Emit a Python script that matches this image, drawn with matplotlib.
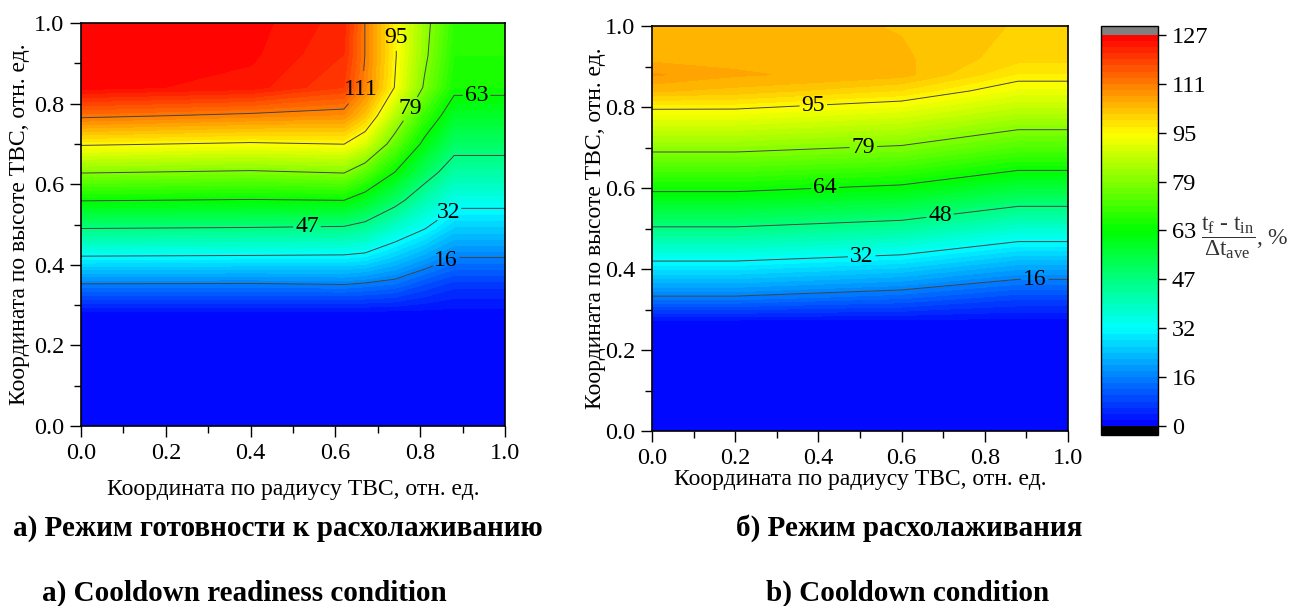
import numpy as np
import matplotlib
matplotlib.use("Agg")
import matplotlib.pyplot as plt
from matplotlib.colors import LinearSegmentedColormap
from matplotlib.ticker import MultipleLocator

plt.rcParams['font.family'] = ['Liberation Serif', 'DejaVu Serif']
plt.rcParams['mathtext.fontset'] = 'custom'
plt.rcParams['mathtext.rm'] = 'Liberation Serif'
plt.rcParams['mathtext.it'] = 'Liberation Serif:italic'

# panel a: cooldown readiness (rows = height, cols = radius)
x_a = [0.0, 0.4, 0.62, 0.67, 0.74, 0.81, 0.88, 1.0]
y_a = [0.0, 0.28, 0.35, 0.42, 0.49, 0.56, 0.63, 0.70, 0.77, 0.84, 0.92, 1.0]
z_a = [
    [1, 1, 1, 1, 1, 1, 1, 1],
    [1, 1, 1, 1, 1, 1, 1, 1],
    [15.2, 15.0, 15.6, 14.8, 13.4, 9.6, 6.7, 6.7],
    [31.4, 31.0, 30.7, 29.8, 25.5, 20.8, 16.1, 16.1],
    [47.6, 47.0, 46.3, 44.0, 37.5, 32.0, 25.3, 25.3],
    [63.8, 63.0, 63.5, 59.0, 50.7, 41.5, 34.3, 34.3],
    [79.9, 78.5, 79.9, 74.2, 63.5, 51.9, 42.9, 42.9],
    [96.1, 94.5, 95.4, 90.0, 75.6, 61.5, 50.9, 50.9],
    [112.3, 110.0, 108.7, 102.0, 85.7, 70.0, 58.3, 58.3],
    [126, 124, 119, 110, 95, 78.4, 65.5, 65.5],
    [126, 125.5, 121, 111, 96, 81, 67.5, 67.5],
    [126, 126, 122, 111, 96, 82, 69, 69],
]

# panel b: cooldown
x_b = [0.0, 0.2, 0.6, 0.88, 1.0]
y_b = [0.0, 0.27, 0.33, 0.42, 0.51, 0.59, 0.69, 0.79, 0.84, 0.88, 0.92, 1.0]
z_b = [
    [1, 1, 1, 1, 1],
    [1, 1, 1, 1, 1],
    [15.3, 15.3, 12.5, 8.6, 8.6],
    [31.8, 31.8, 28.9, 23.3, 23.3],
    [48.7, 48.7, 45.7, 39.2, 39.2],
    [63.3, 63.3, 60.5, 54.2, 54.2],
    [79.5, 79.5, 77.2, 71.5, 71.5],
    [94.4, 94.4, 91.5, 86.0, 86.0],
    [103.5, 102.5, 99, 92.6, 92.6],
    [107.5, 105.5, 104, 97, 97],
    [104.5, 104.5, 103.6, 100, 100],
    [104.5, 104.5, 103.0, 101, 101],
]

line_levels = [15.875, 31.75, 47.625, 63.5, 79.375, 95.25, 111.125]
fmt_a = {15.875: '16', 31.75: '32', 47.625: '47', 63.5: '63',
         79.375: '79', 95.25: '95', 111.125: '111'}
fmt_b = {15.875: '16', 31.75: '32', 47.625: '48', 63.5: '64',
         79.375: '79', 95.25: '95', 111.125: '111'}
lab_a = [(0.745, 0.965), (0.662, 0.834), (0.78, 0.785), (0.933, 0.815),
         (0.533, 0.491), (0.866, 0.532), (0.862, 0.408)]
lab_b = [(0.388, 0.798), (0.508, 0.697), (0.416, 0.598), (0.692, 0.533),
         (0.504, 0.431), (0.92, 0.376)]

cbar_ticks = [0, 15.875, 31.75, 47.625, 63.5, 79.375, 95.25, 111.125, 127]
cbar_labels = ['0', '16', '32', '47', '63', '79', '95', '111', '127']

levels = np.linspace(0, 127, 65)
cmap = LinearSegmentedColormap.from_list(
    'rainbow5', ['#0000ff', '#00ffff', '#00ff00', '#ffff00', '#ff0000'])
cmap.set_over('#808080')
cmap.set_under('#000000')

fig = plt.figure(figsize=(13.03, 6.06), dpi=100)
ax1 = fig.add_axes([0.0622, 0.2970, 0.3254, 0.665])
ax2 = fig.add_axes([0.5004, 0.2888, 0.3193, 0.668])
cax = fig.add_axes([0.845, 0.2822, 0.0437, 0.675])


def draw(ax, xs, ys, zs, fmt, pos):
    X, Y = np.meshgrid(xs, ys)
    Z = np.array(zs, dtype=float)
    cs = ax.contourf(X, Y, Z, levels=levels, cmap=cmap, extend='both',
                     antialiased=False)
    cl = ax.contour(X, Y, Z, levels=line_levels, colors='#444444',
                    linewidths=0.7)
    txts = ax.clabel(cl, fmt=fmt, manual=pos, inline=True, fontsize=17,
                     colors='black', inline_spacing=2)
    for t in txts:
        t.set_rotation(0)
    ax.set_xlim(0, 1)
    ax.set_ylim(0, 1)
    ax.xaxis.set_major_locator(MultipleLocator(0.2))
    ax.xaxis.set_minor_locator(MultipleLocator(0.1))
    ax.yaxis.set_major_locator(MultipleLocator(0.2))
    ax.yaxis.set_minor_locator(MultipleLocator(0.1))
    ax.xaxis.set_major_formatter('{x:.1f}')
    ax.yaxis.set_major_formatter('{x:.1f}')
    ax.tick_params(which='major', direction='out', length=8, width=1,
                   labelsize=17.5, pad=4)
    ax.tick_params(which='minor', direction='out', length=5, width=1)
    for s in ax.spines.values():
        s.set_linewidth(1.2)
    return cs


cs1 = draw(ax1, x_a, y_a, z_a, fmt_a, lab_a)
cs2 = draw(ax2, x_b, y_b, z_b, fmt_b, lab_b)

cb = fig.colorbar(cs1, cax=cax, extendrect=True, extendfrac=0.023)
cb.set_ticks(cbar_ticks)
cb.set_ticklabels(cbar_labels)
cb.ax.tick_params(direction='out', length=6, width=1, labelsize=17.5, pad=4)
cb.ax.minorticks_off()
cb.outline.set_linewidth(1)

fig.text(1201 / 1303, 1 - 238 / 606,
         r'$\dfrac{\mathrm{t_f\ \text{-}\ t_{in}}}{\Delta\mathrm{t_{ave}}}$, %',
         fontsize=17, va='center', ha='left', color='#333333')

fig.text(293 / 1303, 1 - 490 / 606, 'Координата по радиусу ТВС, отн. ед.',
         fontsize=17, ha='center', va='center')
fig.text(860 / 1303, 1 - 480 / 606, 'Координата по радиусу ТВС, отн. ед.',
         fontsize=17, ha='center', va='center')
fig.text(20 / 1303, 1 - 224 / 606, 'Координата по высоте ТВС, отн. ед.',
         fontsize=17, ha='center', va='center', rotation=90)
fig.text(595 / 1303, 1 - 228 / 606, 'Координата по высоте ТВС, отн. ед.',
         fontsize=17, ha='center', va='center', rotation=90)

fig.text(278 / 1303, 1 - 528 / 606, 'а) Режим готовности к расхолаживанию',
         fontsize=21, fontweight='bold', ha='center', va='center')
fig.text(909 / 1303, 1 - 528 / 606, 'б) Режим расхолаживания',
         fontsize=21, fontweight='bold', ha='center', va='center')
fig.text(244 / 1303, 1 - 593 / 606, 'a) Cooldown readiness condition',
         fontsize=21, fontweight='bold', ha='center', va='center')
fig.text(908 / 1303, 1 - 593 / 606, 'b) Cooldown condition',
         fontsize=21, fontweight='bold', ha='center', va='center')

fig.savefig('out.png', dpi=100)
